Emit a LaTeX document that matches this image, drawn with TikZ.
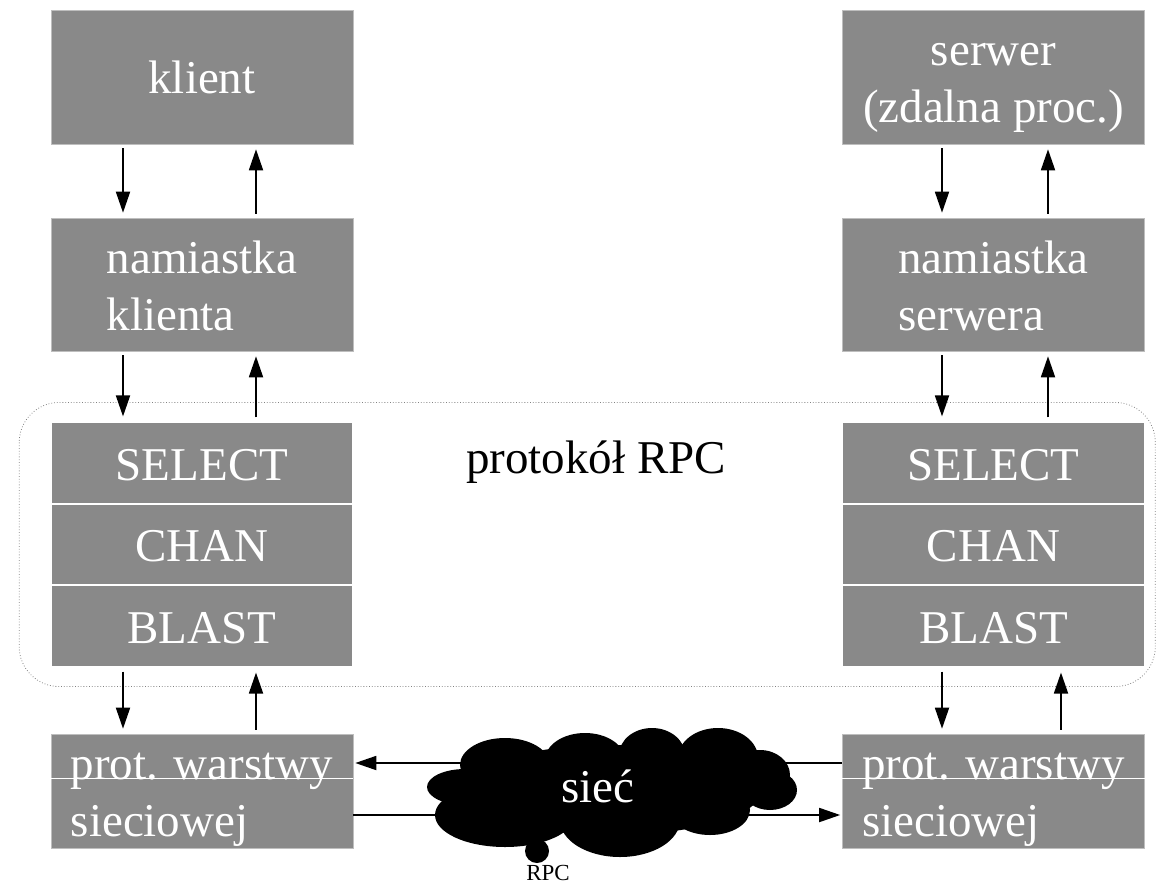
\documentclass[tikz,border=0pt]{standalone}
\usepackage{fontspec}
\setmainfont{Liberation Serif}
\usetikzlibrary{arrows.meta}
\usetikzlibrary{calc}
\definecolor{boxgray}{RGB}{137,137,137}
\tikzstyle{block} = [rectangle, fill=boxgray, draw=boxgray!55!white, line width=0.6pt, text=white, minimum width=302pt, inner sep=0pt, align=center, font=\fontsize{47}{57}\selectfont]
\tikzstyle{layer} = [block, draw=white, line width=1.6pt, minimum height=81.5pt]
\tikzstyle{arrow} = [-{Triangle[length=21pt,width=14pt]}, line width=1.8pt, shorten <=4pt, shorten >=5pt]
\newcommand{\lstrut}{\rule[-11.5pt]{0pt}{57pt}}
\newcommand{\lin}{79pt}
\newcommand{\lout}{54pt}
\newcommand{\rin}{51.5pt}
\newcommand{\rout}{54.5pt}
\newcommand{\rbot}{67.5pt}
\newcommand{\shift}{28pt}

\begin{document}
\begin{tikzpicture}[x=1pt, y=-1pt]
  \useasboundingbox (0,0) rectangle (1156,888);

  % Client side
  \node [block, minimum height=134pt]                                    (klient) at (202,77) {\lstrut klient};
  \node [block, minimum height=133pt, align=left, below of=klient, node distance=207.5pt] (namk) {\lstrut namiastka\\\lstrut klienta};
  \node [layer, below of=namk, node distance=178.5pt] (selL) {\lstrut SELECT};
  \node [layer, below of=selL, node distance=81.5pt]  (chanL) {\lstrut CHAN};
  \node [layer, below of=chanL, node distance=81.5pt] (blastL) {\lstrut BLAST};
  \node [block, minimum height=114pt, align=left, below of=blastL, node distance=165pt] (protL) {\lstrut prot. warstwy\\\lstrut sieciowej};

  % Server side
  \node [block, minimum height=134pt]                                    (serwer) at (993.5,77) {\lstrut serwer\\\lstrut (zdalna proc.)};
  \node [block, minimum height=133pt, align=left, below of=serwer, node distance=207.5pt] (nams) {\lstrut namiastka\\\lstrut serwera};
  \node [layer, below of=nams, node distance=178.5pt] (selR) {\lstrut SELECT};
  \node [layer, below of=selR, node distance=81.5pt]  (chanR) {\lstrut CHAN};
  \node [layer, below of=chanR, node distance=81.5pt] (blastR) {\lstrut BLAST};
  \node [block, minimum height=114pt, align=left, below of=blastR, node distance=165pt] (protR) {\lstrut prot. warstwy\\\lstrut sieciowej};

  %  split lines
  \draw [white, line width=1.2pt] ([yshift=-45pt]protL.north west) -- ([yshift=-45pt]protL.north east);
  \draw [white, line width=1.2pt] ([yshift=-45pt]protR.north west) -- ([yshift=-45pt]protR.north east);

  %  RPC frame
  \draw [dotted, gray, line width=0.8pt, rounded corners=40pt] ([xshift=-31pt, yshift=19pt]selL.north west) rectangle ([xshift=10pt, yshift=-19pt]blastR.south east);
  \node [anchor=base, font=\fontsize{47}{57}\selectfont] (proto) at (596,473) {protokół RPC};

  % Left arrows
  \draw [arrow] ([xshift=-\lin]klient.south) -- ([xshift=-\lin]namk.north);
  \draw [arrow] ([xshift=\lout]namk.north) -- ([xshift=\lout]klient.south);
  \draw [arrow] ([xshift=-\lin]namk.south) -- ([xshift=-\lin]selL.north);
  \draw [arrow] ([xshift=\lout]selL.north) -- ([xshift=\lout]namk.south);
  \draw [arrow] ([xshift=-\lin]blastL.south) -- ([xshift=-\lin]protL.north);
  \draw [arrow] ([xshift=\lout]protL.north) -- ([xshift=\lout]blastL.south);

  % Right arrows
  \draw [arrow] ([xshift=-\rin]serwer.south) -- ([xshift=-\rin]nams.north);
  \draw [arrow] ([xshift=\rout]nams.north) -- ([xshift=\rout]serwer.south);
  \draw [arrow] ([xshift=-\rin]nams.south) -- ([xshift=-\rin]selR.north);
  \draw [arrow] ([xshift=\rout]selR.north) -- ([xshift=\rout]nams.south);
  \draw [arrow] ([xshift=-\rin]blastR.south) -- ([xshift=-\rin]protR.north);
  \draw [arrow] ([xshift=\rbot]protR.north) -- ([xshift=\rbot]blastR.south);

  % Network
  \draw [arrow, shorten <=0pt, shorten >=2pt] ([yshift=\shift]protR.west) -- ([yshift=\shift]protL.east);
  \draw [arrow, shorten <=0pt, shorten >=2pt] ([yshift=-24pt]protL.east) -- ([yshift=-24pt]protR.west);

  %  cloud
  \fill (612,790) ellipse (150pt and 45pt);
  \fill (505,765) ellipse (45pt and 27pt);
  \fill (585,760) ellipse (40pt and 27pt);
  \fill (652,755) ellipse (33pt and 27pt);
  \fill (718,758) ellipse (40pt and 30pt);
  \fill (760,775) ellipse (30pt and 25pt);
  \fill (770,790) ellipse (27pt and 20pt);
  \fill (710,810) ellipse (40pt and 25pt);
  \fill (620,820) ellipse (60pt and 37pt);
  \fill (505,815) ellipse (70pt and 32pt);
  \fill (465,787) ellipse (38pt and 18pt);
  \fill (537,851) circle (12pt);
  \node [anchor=base, text=white, font=\fontsize{47}{57}\selectfont] (siec) at (598,802) {sieć};
  \node [font=\fontsize{23}{27}\selectfont] (rpc) at (548,873) {RPC};

\end{tikzpicture}
\end{document}
